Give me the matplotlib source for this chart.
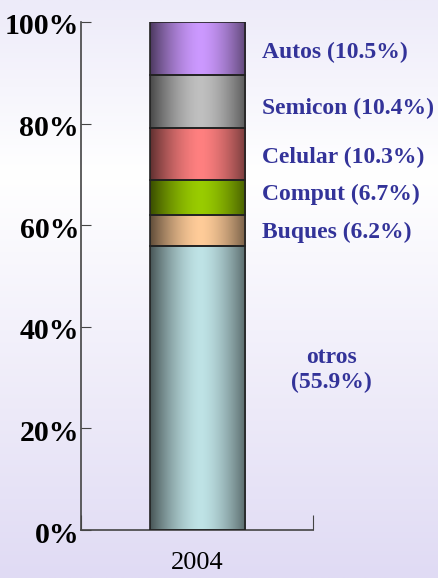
import numpy as np
import matplotlib.pyplot as plt
import matplotlib.transforms as mtransforms
from matplotlib.colors import to_rgb
from matplotlib.patches import Rectangle

categorias = ['otros', 'Buques', 'Comput', 'Celular', 'Semicon', 'Autos']
valores = [55.9, 6.2, 6.7, 10.3, 10.4, 10.5]
colores = ['#BFE3E6', '#FFCC99', '#99CC00', '#FF8080', '#C0C0C0', '#CC99FF']
anio = '2004'
yticks = [0, 20, 40, 60, 80, 100]

serif = 'Liberation Serif'
azul = '#333399'

fig = plt.figure(figsize=(4.38, 5.78), dpi=100)

# fondo degradado
bg = fig.add_axes([0, 0, 1, 1], zorder=0)
top = np.array(to_rgb('#EDEBF9'))
mid = np.array([1.0, 1.0, 1.0])
bot = np.array(to_rgb('#E0DBF4'))
yy = np.linspace(0, 1, 300)[:, None]
grad = np.where(yy < 0.3, top + (mid - top) * (yy / 0.3),
                mid + (bot - mid) * ((yy - 0.3) / 0.7))
bg.imshow(grad.reshape(300, 1, 3), aspect='auto', extent=[0, 1, 1, 0])
bg.axis('off')

ax = fig.add_axes([0.185, 0.083, 0.530, 0.879], zorder=1)
ax.patch.set_alpha(0)
ax.set_xlim(0, 1)
ax.set_ylim(0, 100)

x0, w = 0.5, 0.41
t = np.linspace(0, 1, 200)
perfil = 0.42 + 0.58 * (1 - np.abs(2 * t - 1.05) ** 1.6)
perfil = np.clip(perfil, 0, 1)

base = 0
for cat, v, c in zip(categorias, valores, colores):
    rgb = np.array(to_rgb(c))
    img = perfil[None, :, None] * rgb[None, None, :]
    ax.imshow(img, aspect='auto', extent=[x0 - w / 2, x0 + w / 2, base, base + v],
              interpolation='bilinear', zorder=2)
    ax.add_patch(Rectangle((x0 - w / 2, base), w, v, fill=False,
                           edgecolor='#222222', linewidth=1.2, zorder=3))
    base += v

# etiquetas
acum = np.cumsum(valores) - np.array(valores) / 2
ajuste = {'Autos': -0.8, 'Semicon': -1.4, 'Celular': -0.6, 'Comput': 0.6, 'Buques': -0.4}
for cat, v, yc in zip(categorias, valores, acum):
    if cat == 'otros':
        ax.text(1.078, 31.5, f'{cat}\n({v}%)', ha='center', va='center',
                fontsize=17, fontweight='bold', color=azul, family=serif,
                linespacing=1.25, clip_on=False)
    else:
        ax.text(0.78, yc + ajuste.get(cat, 0), f'{cat} ({v}%)', ha='left', va='center',
                fontsize=17, fontweight='bold', color=azul, family=serif,
                clip_on=False)

ax.set_aspect('auto')
ax.set_yticks(yticks)
ax.set_yticklabels([])
# etiquetas del eje y, algo por debajo de la marca
trans = ax.get_yaxis_transform() + mtransforms.ScaledTranslation(-2 / 100, -5 / 100,
                                                                  fig.dpi_scale_trans)
for v in yticks:
    ax.text(0, v, f'{v}%', transform=trans, ha='right', va='center',
            family=serif, fontsize=21.5, fontweight='bold', clip_on=False)
ax.set_xticks([0, 1])
ax.set_xticklabels([])
ax.set_xticks([0.5], minor=True)
ax.set_xticklabels([anio], minor=True, family=serif, fontsize=19)
ax.tick_params(axis='x', which='minor', length=0, pad=16)
ax.tick_params(axis='x', which='major', direction='in', length=11, color='#444444')
ax.tick_params(axis='y', direction='in', length=7, color='#444444')
for s in ['top', 'right']:
    ax.spines[s].set_visible(False)
for s in ['left', 'bottom']:
    ax.spines[s].set_color('#444444')
    ax.spines[s].set_linewidth(1.2)

fig.savefig('out.png', dpi=100)
